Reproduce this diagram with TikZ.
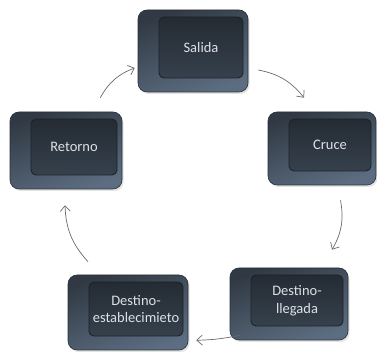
\documentclass[tikz,border=0pt]{standalone}
\usepackage{fontspec}
\setmainfont{Carlito}
\usetikzlibrary{arrows.meta,shadows,calc}
\definecolor{keyTop}{HTML}{313A44}
\definecolor{keyBottom}{HTML}{5C6D81}
\definecolor{keyEdge}{HTML}{283039}
\definecolor{faceTop}{HTML}{242B33}
\definecolor{faceBottom}{HTML}{36414D}
\definecolor{faceEdge}{HTML}{1C2228}
\definecolor{keyText}{HTML}{DCE1E6}
\definecolor{arrGray}{HTML}{6A6A6A}
\tikzset{
  keybody/.style={rounded corners=9pt, draw=keyEdge, line width=0.6pt,
    top color=keyTop, bottom color=keyBottom, shading angle=20,
    drop shadow={opacity=0.22, shadow xshift=1.5pt, shadow yshift=-2pt},
    inner sep=0pt},
  keyface/.style={rounded corners=5pt, draw=faceEdge, line width=0.9pt,
    top color=faceTop, bottom color=faceBottom, text=keyText,
    font=\fontsize{14.5}{17.5}\selectfont, align=center, inner sep=0pt},
  cyc/.style={draw=arrGray, line width=0.7pt,
    -{Straight Barb[length=5.5pt,width=10pt]}, bend left=20}
}
\newcommand\keycap[6]{%
  \node[keybody, minimum width={#4pt}, minimum height={#5pt}] (#1) at (#2,#3) {};
  \node[keyface, minimum width={#4pt-26pt}, minimum height={#5pt-21pt}] (#1-face)
    at ($(#1)+(8,3.5)$) {#6};
}
\begin{document}
\begin{tikzpicture}[x=1pt,y=1pt]
\useasboundingbox (0,0) rectangle (377,352);
\keycap{salida}{193}{301}{110}{82}{Salida}
\keycap{cruce}{322}{203.5}{108}{73}{Cruce}
\keycap{retorno}{66}{201.5}{112}{77}{Retorno}
\keycap{llegada}{289}{48}{118}{72}{Destino-\\llegada}
\keycap{estab}{128}{39.5}{120}{75}{Destino-\\establecimieto}
\draw[cyc] ([shift={(-22,14)}]retorno.north east) to ([shift={(-3,-17)}]salida.west);
\draw[cyc] ([shift={(10,-19)}]salida.east) to ([shift={(-18,14)}]cruce.north);
\draw[cyc] ([shift={(18.5,-15)}]cruce.south) to ([shift={(43,18)}]llegada.north);
\draw[cyc, bend left=5] ([shift={(10,5)}]llegada.south west) to ([shift={(8,10)}]estab.south east);
\draw[cyc] ([shift={(-40,13)}]estab.north) to ([shift={(-1,-16)}]retorno.south);
\end{tikzpicture}
\end{document}
